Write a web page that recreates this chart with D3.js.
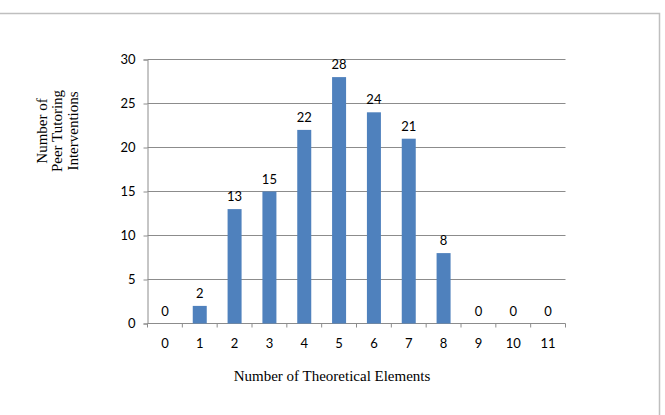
<!DOCTYPE html>
<html>
<head>
<meta charset="utf-8">
<script src="https://cdn.jsdelivr.net/npm/d3@7"></script>
<style>
  body { margin: 0; background: #fff; }
  svg { display: block; }
</style>
</head>
<body>
<svg id="chart"></svg>
<script>
const categories = ["0", "1", "2", "3", "4", "5", "6", "7", "8", "9", "10", "11"];
const values = [0, 2, 13, 15, 22, 28, 24, 21, 8, 0, 0, 0];
const yTicks = [0, 5, 10, 15, 20, 25, 30];

const width = 665, height = 415;
const svg = d3.select("#chart").attr("width", width).attr("height", height);

// outer chart frame
svg.append("rect")
  .attr("x", -2).attr("y", 13.5)
  .attr("width", 661.5).attr("height", 420)
  .attr("fill", "none").attr("stroke", "#bfbfbf").attr("stroke-width", 1.5);

const plotLeft = 147.5, plotRight = 565.5, plotTop = 59.5, plotBottom = 323.5;

const xBand = d3.scaleBand().domain(categories).range([plotLeft, plotRight]);
const y = d3.scaleLinear().domain([0, 30]).range([plotBottom, plotTop]);

const labelFont = "Lato, 'Open Sans', sans-serif";
const labelSize = 13;

// gridlines
svg.append("g")
  .selectAll("line")
  .data(yTicks.filter(d => d > 0))
  .enter().append("line")
  .attr("x1", plotLeft).attr("x2", plotRight)
  .attr("y1", d => y(d)).attr("y2", d => y(d))
  .attr("stroke", "#8c8c8c").attr("stroke-width", 1);

// y axis
const yAxis = svg.append("g")
  .attr("transform", `translate(${plotLeft},0)`)
  .call(d3.axisLeft(y).tickValues(yTicks).tickSize(4).tickPadding(8));
yAxis.select(".domain").attr("stroke", "#8c8c8c");
yAxis.selectAll(".tick line").attr("stroke", "#8c8c8c");
yAxis.selectAll("text").attr("font-family", labelFont).attr("font-size", labelSize).attr("fill", "#000");

// x axis with ticks between categories
const xAxis = svg.append("g").attr("transform", `translate(0,${plotBottom})`);
xAxis.append("line")
  .attr("x1", plotLeft).attr("x2", plotRight)
  .attr("stroke", "#8c8c8c");
xAxis.selectAll("line.sep")
  .data(categories.concat(["end"]))
  .enter().append("line")
  .attr("class", "sep")
  .attr("x1", (d, i) => i < categories.length ? xBand(d) : plotRight)
  .attr("x2", (d, i) => i < categories.length ? xBand(d) : plotRight)
  .attr("y1", 0).attr("y2", 4)
  .attr("stroke", "#8c8c8c");
xAxis.selectAll("text")
  .data(categories)
  .enter().append("text")
  .attr("x", d => xBand(d) + xBand.bandwidth() / 2)
  .attr("y", 24)
  .attr("text-anchor", "middle")
  .attr("font-family", labelFont).attr("font-size", labelSize)
  .text(d => d);

// bars
svg.append("g")
  .selectAll("rect")
  .data(values)
  .enter().append("rect")
  .attr("x", (d, i) => xBand(categories[i]) + (xBand.bandwidth() - 14) / 2)
  .attr("width", 14)
  .attr("y", d => y(d))
  .attr("height", d => plotBottom - y(d))
  .attr("fill", "#4f81bd");

// data labels
svg.append("g")
  .selectAll("text")
  .data(values)
  .enter().append("text")
  .attr("x", (d, i) => xBand(categories[i]) + xBand.bandwidth() / 2)
  .attr("y", d => y(d) - 8)
  .attr("text-anchor", "middle")
  .attr("font-family", labelFont).attr("font-size", labelSize)
  .text(d => d);

// axis titles
svg.append("text")
  .attr("x", 332).attr("y", 381)
  .attr("text-anchor", "middle")
  .attr("font-family", "'Liberation Serif', serif").attr("font-size", 15)
  .text("Number of Theoretical Elements");

const yTitle = svg.append("text")
  .attr("transform", "translate(62,131) rotate(-90)")
  .attr("text-anchor", "middle")
  .attr("font-family", "'Liberation Serif', serif").attr("font-size", 15);
["Number of", "Peer Tutoring", "Interventions"].forEach((t, i) => {
  yTitle.append("tspan").attr("x", 0).attr("dy", i === 0 ? -15.5 : 15.5).text(t);
});
</script>
</body>
</html>
